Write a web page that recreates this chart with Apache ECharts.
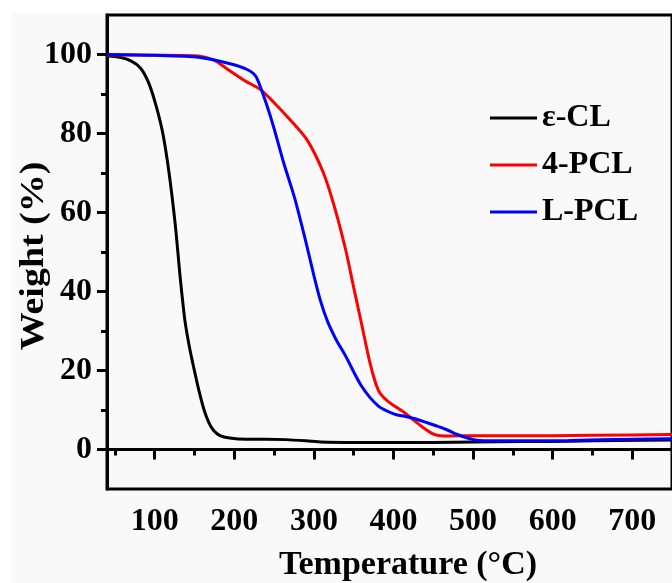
<!DOCTYPE html>
<html>
<head>
<meta charset="utf-8">
<script src="https://cdn.jsdelivr.net/npm/echarts@6/dist/echarts.min.js"></script>
<style>
  html, body { margin: 0; padding: 0; background: #fff; }
  #main { width: 672px; height: 583px; }
</style>
</head>
<body>
<div id="main"></div>
<script>
// 热重曲线 TGA
var seriesNames = ['ε-CL', '4-PCL', 'L-PCL'];
var seriesColors = ['#000000', '#ff0000', '#0000ff'];

// ε-CL
var clTemp   = [40, 56, 70, 82, 92, 101, 110, 118, 126, 132, 138, 144, 150, 156, 162, 168, 174, 182, 194, 215, 240, 265, 290, 310, 340, 400, 450, 500, 560, 620, 680, 750];
var clWeight = [99.7, 99.3, 98.4, 96.6, 93, 87.5, 80.2, 70, 56.5, 43.5, 32.5, 25.5, 19.8, 14.5, 10, 6.8, 4.8, 3.5, 2.9, 2.6, 2.6, 2.5, 2.2, 1.9, 1.8, 1.8, 1.8, 1.9, 2.0, 2.1, 2.3, 2.4];

// 4-PCL
var pcl4Temp   = [40, 100, 155, 175, 192, 212, 233, 250, 270, 291, 311, 325, 340, 350, 360, 370, 378, 383, 393, 414, 435, 451, 463, 500, 600, 700, 750];
var pcl4Weight = [99.9, 99.8, 99.6, 98.5, 96.2, 93.5, 91.1, 87.8, 83.5, 78.5, 70.5, 62, 50.5, 41, 31.7, 22.3, 16.5, 14.3, 12.2, 9.3, 5.9, 3.8, 3.4, 3.5, 3.5, 3.7, 3.8];

// L-PCL
var lpclTemp   = [40, 100, 155, 196, 216, 227, 237, 249, 262, 276, 290, 300, 308, 317, 328, 340, 360, 381, 402, 414, 430, 455, 467, 480, 495, 507, 550, 620, 700, 750];
var lpclWeight = [100, 99.8, 99.3, 97.6, 96.2, 94.5, 89.4, 81.9, 72.6, 63.5, 52.5, 44, 37.8, 32.5, 27.8, 23.6, 16, 11, 8.9, 8.4, 7.6, 5.9, 5.0, 3.8, 2.8, 2.3, 2.2, 2.3, 2.6, 2.7];

// 刻度
var xMajorTicks = [100, 200, 300, 400, 500, 600, 700];
var xMinorTicks = [50, 150, 250, 350, 450, 550, 650, 750];
var yMajorTicks = [0, 20, 40, 60, 80, 100];
var yMinorTicks = [10, 30, 50, 70, 90];

var fontFamily = '"Liberation Serif", "Times New Roman", serif';

function zip(xs, ys) {
    var out = [];
    for (var i = 0; i < xs.length; i++) {
        out.push([xs[i], ys[i]]);
    }
    return out;
}

var allData = [zip(clTemp, clWeight), zip(pcl4Temp, pcl4Weight), zip(lpclTemp, lpclWeight)];

var series = [];
for (var i = 0; i < seriesNames.length; i++) {
    series.push({
        name: seriesNames[i],
        type: 'line',
        data: allData[i],
        smooth: 0.25,
        symbol: 'none',
        clip: true,
        itemStyle: {color: seriesColors[i]},
        lineStyle: {color: seriesColors[i], width: 3}
    });
}

function labelStyle(values, margin) {
    return {
        customValues: values,
        fontFamily: fontFamily,
        fontWeight: 'bold',
        fontSize: 32,
        color: '#000',
        margin: margin
    };
}

var myChart = echarts.init(document.getElementById('main'));
var option = {
    backgroundColor: '#fff',
    animation: false,
    graphic: [
        {
            type: 'rect',
            z: -10,
            silent: true,
            shape: {x: 11, y: 13, width: 661, height: 570},
            style: {fill: '#f9f9f9'}
        },
        {
            type: 'text',
            x: 34,
            y: 256,
            rotation: Math.PI / 2,
            scaleX: 1.15,
            style: {
                text: 'Weight (%)',
                font: 'bold 33px ' + fontFamily,
                fill: '#000',
                align: 'center',
                verticalAlign: 'middle',
                textAlign: 'center',
                textVerticalAlign: 'middle'
            }
        },
        {
            type: 'text',
            x: 408,
            y: 565,
            style: {
                text: 'Temperature (°C)',
                font: 'bold 34px ' + fontFamily,
                fill: '#000',
                align: 'center',
                verticalAlign: 'middle',
                textAlign: 'center',
                textVerticalAlign: 'middle'
            }
        }
    ],
    grid: {
        left: 107,
        top: 15,
        right: -10,
        bottom: 94,
        show: true,
        borderColor: '#000',
        borderWidth: 3,
        backgroundColor: 'transparent'
    },
    legend: {
        orient: 'vertical',
        left: 490,
        top: 102,
        padding: 0,
        icon: 'rect',
        itemWidth: 47,
        itemHeight: 3,
        itemGap: 15,
        data: seriesNames,
        textStyle: {
            fontFamily: fontFamily,
            fontWeight: 'bold',
            fontSize: 32,
            lineHeight: 32,
            color: '#000'
        }
    },
    xAxis: [
        {
            type: 'value',
            min: 40,
            max: 750,
            position: 'bottom',
            splitLine: {show: false},
            axisLine: {lineStyle: {color: '#000', width: 3}},
            axisTick: {customValues: xMajorTicks, length: 10, lineStyle: {color: '#000', width: 3}},
            axisLabel: labelStyle(xMajorTicks, 17)
        },
        {
            type: 'value',
            min: 40,
            max: 750,
            position: 'bottom',
            splitLine: {show: false},
            axisLine: {show: false},
            axisTick: {customValues: xMinorTicks, length: 6, lineStyle: {color: '#000', width: 3}},
            axisLabel: {show: false}
        }
    ],
    yAxis: [
        {
            type: 'value',
            min: -10,
            max: 110,
            position: 'left',
            splitLine: {show: false},
            axisLine: {show: true, lineStyle: {color: '#000', width: 3}},
            axisTick: {show: true, customValues: yMajorTicks, length: 10, lineStyle: {color: '#000', width: 3}},
            axisLabel: labelStyle(yMajorTicks, 15)
        },
        {
            type: 'value',
            min: -10,
            max: 110,
            position: 'left',
            splitLine: {show: false},
            axisLine: {show: false},
            axisTick: {show: true, customValues: yMinorTicks, length: 6, lineStyle: {color: '#000', width: 3}},
            axisLabel: {show: false}
        }
    ],
    series: series
};
myChart.setOption(option);
</script>
</body>
</html>
